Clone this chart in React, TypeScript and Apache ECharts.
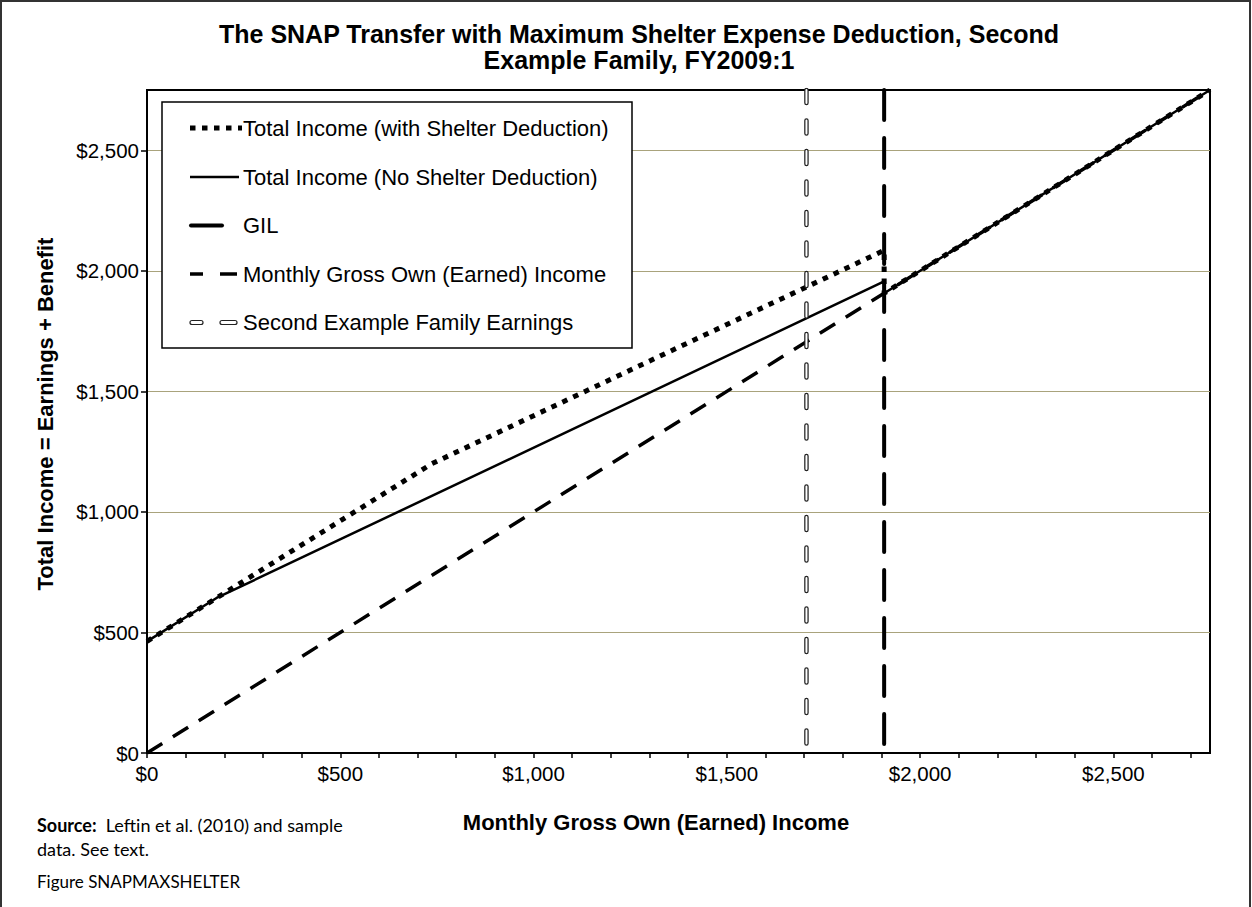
import React, { useEffect, useRef } from "react";
import * as echarts from "echarts";

// ---- Data ----
const withShelterX = [0, 737, 1907, 1907, 2750];
const withShelterY = [463, 1200, 2085, 1907, 2750];
const noShelterX = [0, 180, 1907, 1907, 2750];
const noShelterY = [463, 643, 1956, 1907, 2750];
const earnedX = [0, 2750];
const earnedY = [0, 2750];
const gilValue = 1907;
const familyEarnings = 1706;
const axisMax = 2750;
const xLabelValues = [0, 500, 1000, 1500, 2000, 2500];
const xTickValues = [0, 100, 200, 300, 400, 500, 600, 700, 800, 900, 1000, 1100, 1200, 1300, 1400, 1500, 1600, 1700, 1800, 1900, 2000, 2100, 2200, 2300, 2400, 2500, 2600, 2700];
const yLabelValues = [0, 500, 1000, 1500, 2000, 2500];

const legendNames = [
  "Total Income (with Shelter Deduction)",
  "Total Income (No Shelter Deduction)",
  "GIL",
  "Monthly Gross Own (Earned) Income",
  "Second Example Family Earnings",
];

const titleLines = [
  "The SNAP Transfer with Maximum Shelter Expense Deduction, Second",
  "Example Family, FY2009:1",
];
const xTitle = "Monthly Gross Own (Earned) Income";
const yTitle = "Total Income = Earnings + Benefit";

const zip = (xs: number[], ys: number[]) => xs.map((x, i) => [x, ys[i]]);
const money = (v: number) => "$" + v.toLocaleString("en-US");

const FONT = "Arial, Liberation Sans, sans-serif";
const NOTE_FONT = "Lato, sans-serif";

export default function App() {
  const ref = useRef<HTMLDivElement>(null);
  useEffect(() => {
    if (!ref.current) return;
    const chart = echarts.init(ref.current, undefined, { renderer: "svg" });

    const legendRowY = [128, 177, 225.5, 274, 322.5];
    const legendGraphics: any[] = [
      {
        type: "rect",
        shape: { x: 162, y: 102, width: 470, height: 246 },
        style: { fill: "#fff", stroke: "#000", lineWidth: 1.5 },
        z: 10,
      },
      {
        type: "line",
        shape: { x1: 190, y1: legendRowY[0], x2: 242, y2: legendRowY[0] },
        style: { stroke: "#000", lineWidth: 5, lineDash: [5.5, 6.5] },
        z: 11,
      },
      {
        type: "line",
        shape: { x1: 190, y1: legendRowY[1], x2: 239, y2: legendRowY[1] },
        style: { stroke: "#000", lineWidth: 2.5 },
        z: 11,
      },
      {
        type: "line",
        shape: { x1: 191, y1: legendRowY[2], x2: 222, y2: legendRowY[2] },
        style: { stroke: "#000", lineWidth: 4, lineCap: "round" },
        z: 11,
      },
      {
        type: "line",
        shape: { x1: 190, y1: legendRowY[3], x2: 203, y2: legendRowY[3] },
        style: { stroke: "#000", lineWidth: 3.5 },
        z: 11,
      },
      {
        type: "line",
        shape: { x1: 220, y1: legendRowY[3], x2: 237, y2: legendRowY[3] },
        style: { stroke: "#000", lineWidth: 3.5 },
        z: 11,
      },
      {
        type: "rect",
        shape: { x: 190, y: legendRowY[4] - 2, width: 13, height: 4, r: 2 },
        style: { fill: "#fff", stroke: "#222", lineWidth: 1.2 },
        z: 11,
      },
      {
        type: "rect",
        shape: { x: 220, y: legendRowY[4] - 2, width: 17, height: 4, r: 2 },
        style: { fill: "#fff", stroke: "#222", lineWidth: 1.2 },
        z: 11,
      },
      ...legendNames.map((name, i) => ({
        type: "text",
        x: 243,
        y: legendRowY[i],
        style: {
          text: name,
          fontFamily: FONT,
          fontSize: 22,
          fill: "#000",
          verticalAlign: "middle",
          textAlign: "left",
        },
        z: 11,
      })),
    ];

    const option: any = {
      animation: false,
      backgroundColor: "#fff",
      textStyle: { fontFamily: FONT },
      grid: {
        left: 147,
        right: 42,
        top: 90,
        bottom: 154,
        show: true,
        borderColor: "#000",
        borderWidth: 2,
        containLabel: false,
      },
      xAxis: {
        type: "value",
        min: 0,
        max: axisMax,
        interval: 500,
        axisLine: { show: true, lineStyle: { color: "#000", width: 2 } },
        axisTick: {
          show: true,
          length: 5,
          lineStyle: { color: "#000", width: 1.5 },
          customValues: xTickValues,
        },
        axisLabel: {
          fontFamily: FONT,
          fontSize: 20.5,
          color: "#000",
          margin: 10,
          customValues: xLabelValues,
          formatter: (v: number) => money(v),
        },
        splitLine: { show: false },
      },
      yAxis: {
        type: "value",
        min: 0,
        max: axisMax,
        interval: 500,
        axisLine: { show: true, lineStyle: { color: "#000", width: 2 } },
        axisTick: {
          show: true,
          length: 6,
          lineStyle: { color: "#000", width: 1.5 },
          customValues: yLabelValues,
        },
        axisLabel: {
          fontFamily: FONT,
          fontSize: 20.5,
          color: "#000",
          margin: 8,
          customValues: yLabelValues,
          formatter: (v: number) => money(v),
        },
        splitLine: { show: true, lineStyle: { color: "#a9a37c", width: 1 } },
      },
      series: [
        {
          name: legendNames[3],
          type: "line",
          data: zip(earnedX, earnedY),
          symbol: "none",
          silent: true,
          lineStyle: { color: "#000", width: 3.5, type: [18, 12.5] },
          z: 2,
        },
        {
          name: legendNames[1],
          type: "line",
          data: zip(noShelterX, noShelterY),
          symbol: "none",
          silent: true,
          lineStyle: { color: "#000", width: 2.5, type: "solid" },
          z: 3,
        },
        {
          name: legendNames[0],
          type: "line",
          data: zip(withShelterX, withShelterY),
          symbol: "none",
          silent: true,
          lineStyle: { color: "#000", width: 5, type: [5.5, 6.5] },
          z: 4,
        },
        {
          name: legendNames[2],
          type: "line",
          data: [
            [gilValue, axisMax],
            [gilValue, 0],
          ],
          symbol: "none",
          silent: true,
          lineStyle: { color: "#000", width: 4, type: [30, 18], cap: "round" },
          z: 5,
        },
        {
          name: legendNames[4],
          type: "line",
          data: [
            [familyEarnings, axisMax],
            [familyEarnings, 0],
          ],
          symbol: "none",
          silent: true,
          lineStyle: { color: "#222", width: 4.5, type: [13, 17.5], cap: "round" },
          z: 6,
        },
        {
          name: legendNames[4] + " inner",
          type: "line",
          data: [
            [familyEarnings, axisMax],
            [familyEarnings, 0],
          ],
          symbol: "none",
          silent: true,
          lineStyle: { color: "#fff", width: 2, type: [13, 17.5], cap: "round" },
          z: 7,
        },
      ],
      graphic: [
        {
          type: "rect",
          shape: { x: 1, y: 1, width: 1249, height: 930 },
          style: { fill: "none", stroke: "#333", lineWidth: 2 },
          z: 20,
          silent: true,
        },
        {
          type: "text",
          x: 639,
          y: 34,
          style: {
            text: titleLines[0],
            fontFamily: FONT,
            fontWeight: "bold",
            fontSize: 25,
            fill: "#000",
            textAlign: "center",
            verticalAlign: "middle",
          },
        },
        {
          type: "text",
          x: 639,
          y: 60,
          style: {
            text: titleLines[1],
            fontFamily: FONT,
            fontWeight: "bold",
            fontSize: 25,
            fill: "#000",
            textAlign: "center",
            verticalAlign: "middle",
          },
        },
        {
          type: "text",
          x: 656,
          y: 822,
          style: {
            text: xTitle,
            fontFamily: FONT,
            fontWeight: "bold",
            fontSize: 22,
            fill: "#000",
            textAlign: "center",
            verticalAlign: "middle",
          },
        },
        {
          type: "text",
          x: 45,
          y: 414,
          rotation: Math.PI / 2,
          style: {
            text: yTitle,
            fontFamily: FONT,
            fontWeight: "bold",
            fontSize: 22,
            fill: "#000",
            textAlign: "center",
            verticalAlign: "middle",
          },
        },
        {
          type: "text",
          x: 37,
          y: 825,
          style: {
            text: "{b|Source:}  Leftin et al. (2010) and sample",
            fontFamily: NOTE_FONT,
            fontSize: 18,
            fill: "#000",
            verticalAlign: "middle",
            rich: { b: { fontWeight: "bold", fontFamily: NOTE_FONT, fontSize: 18, fill: "#000" } },
          },
        },
        {
          type: "text",
          x: 37,
          y: 849,
          style: {
            text: "data. See text.",
            fontFamily: NOTE_FONT,
            fontSize: 18,
            fill: "#000",
            verticalAlign: "middle",
          },
        },
        {
          type: "text",
          x: 37,
          y: 881,
          style: {
            text: "Figure SNAPMAXSHELTER",
            fontFamily: NOTE_FONT,
            fontSize: 17,
            fill: "#000",
            verticalAlign: "middle",
          },
        },
        ...legendGraphics,
      ],
    };

    chart.setOption(option);
    return () => chart.dispose();
  }, []);

  return (
    <div
      ref={ref}
      style={{ position: "absolute", left: 0, top: 0, width: 1252, height: 907 }}
    />
  );
}
